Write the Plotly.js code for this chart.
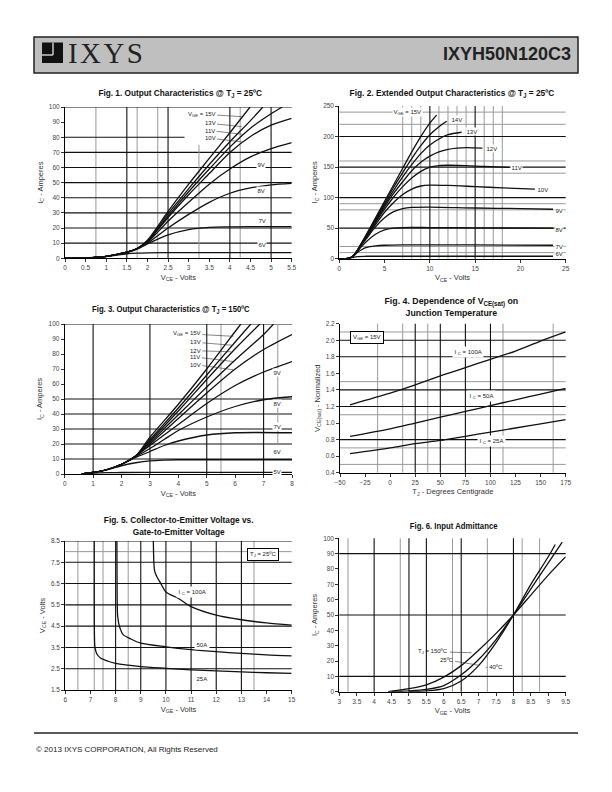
<!DOCTYPE html>
<html><head><meta charset="utf-8">
<script src="https://cdn.plot.ly/plotly-3.0.1.min.js"></script>
<style>html,body{margin:0;padding:0;background:#fff}#c{width:612px;height:792px}</style>
</head><body><div id="c"></div>
<script>
// ===== Fig.1 Output characteristics @ 25C (VCE, IC)
const f1_15V_x=[0,0.5,1,1.5,1.75,2,2.5,3,3.5,4,4.49];
const f1_15V_y=[0,0.3,1.3,4,6.5,12,31,49,66,83,100];
const f1_13V_x=[0,0.5,1,1.5,1.75,2,2.5,3,3.5,4,4.5,4.8];
const f1_13V_y=[0,0.3,1.3,4,6.5,11.5,29.5,46,62,77,91,100];
const f1_11V_x=[0,0.5,1,1.5,1.75,2,2.5,3,3.5,4,4.5,5,5.27];
const f1_11V_y=[0,0.3,1.3,4,6.5,11,28,44,59,73.5,86,95.5,100];
const f1_10V_x=[0,0.5,1,1.5,1.75,2,2.5,3,3.5,4,4.5,5,5.5];
const f1_10V_y=[0,0.3,1.3,4,6.5,11,27,42,56,70,80.5,88,92.5];
const f1_9V_x=[0,0.5,1,1.5,1.75,2,2.5,3,3.5,4,4.5,5,5.5];
const f1_9V_y=[0,0.3,1.3,4,6.5,10.5,24.5,37,49,59,67,72.5,76.5];
const f1_8V_x=[0,0.5,1,1.5,1.75,2,2.5,3,3.5,4,4.5,5,5.5];
const f1_8V_y=[0,0.3,1.3,4,6.3,10,20,29,37,43,46.5,48.5,49.5];
const f1_7V_x=[0,0.5,1,1.5,1.75,2,2.5,3,3.5,4,5,5.5];
const f1_7V_y=[0,0.3,1.3,4,6,9.5,15.5,19,20.5,20.8,21,21];
const f1_6V_x=[0,0.5,1,1.5,1.75,2,2.5,5.5];
const f1_6V_y=[0,0.3,1.2,3,3.4,3.6,3.7,3.7];

// ===== Fig.2 Extended output characteristics @ 25C
const f2_15V_x=[0,1,1.5,2,2.5,3,4,5,6,7,8,9,10,10.75];
const f2_15V_y=[0,0.5,4,14,27,40,67,94,121,148,175,200,222,235];
const f2_14V_x=[0,1,1.5,2,2.5,3,4,5,6,7,8,9,10,11,11.86];
const f2_14V_y=[0,0.5,4,14,26.5,39,65,91,117,141,164,185,203,216,225];
const f2_13V_x=[0,1,1.5,2,2.5,3,4,5,6,7,8,9,10,11,12,13.5];
const f2_13V_y=[0,0.5,4,13.5,26,38,63,88,112,134,154,172,186,196,203,207];
const f2_12V_x=[0,1,1.5,2,2.5,3,4,5,6,7,8,9,10,11,12,13,14,15.8];
const f2_12V_y=[0,0.5,4,13.5,25.5,37,61,85,107,126,144,158,168,175,179,181,182,181];
const f2_11V_x=[0,1,1.5,2,2.5,3,4,5,6,7,8,9,10,11,12,14,16,18.8];
const f2_11V_y=[0,0.5,4,13,25,36,59,81,101,118,132,143,150,152.5,153,152.5,151,149.5];
const f2_10V_x=[0,1,1.5,2,2.5,3,4,5,6,7,8,9,10,12,15,18,21.6];
const f2_10V_y=[0,0.5,4,13,24.5,35,56,76,92,105,114,119,120.5,120,118,116,114];
const f2_9V_x=[0,1,1.5,2,2.5,3,4,5,6,7,8,10,15,20,23.6];
const f2_9V_y=[0,0.5,4,13,23.5,33,52,67,77,82,84,84.5,83,82,81];
const f2_8V_x=[0,1,1.5,2,2.5,3,4,5,6,7,10,15,23.6];
const f2_8V_y=[0,0.5,4,12,20.5,28,40,47,50,51,51,50.5,50];
const f2_7V_x=[0,1,1.5,2,2.5,3,4,5,7,15,23.6];
const f2_7V_y=[0,0.5,3.5,10,15,18.5,21,22,22.5,22.5,22];
const f2_6V_x=[0,1,1.5,2,3,23.6];
const f2_6V_y=[0,0.5,2,3.5,4,4];

// ===== Fig.3 Output characteristics @ 150C
const f3_15V_x=[0.6,1,1.5,2,2.5,3,4,5,6,6.2];
const f3_15V_y=[0,1,3,6.5,12,24.5,46.5,70,95,100];
const f3_13V_x=[0.6,1,1.5,2,2.5,3,4,5,6,6.55];
const f3_13V_y=[0,1,3,6.5,12,23,44,66,88,100];
const f3_12V_x=[0.6,1,1.5,2,2.5,3,4,5,6,6.87];
const f3_12V_y=[0,1,3,6.5,12,22,42,63,83.5,100];
const f3_11V_x=[0.6,1,1.5,2,2.5,3,4,5,6,7,7.35];
const f3_11V_y=[0,1,3,6.5,12,21,39.5,58,76,93,100];
const f3_10V_x=[0.6,1,1.5,2,2.5,3,4,5,6,7,8];
const f3_10V_y=[0,1,3,6.5,12,20,37,54,70,83,93];
const f3_9V_x=[0.6,1,1.5,2,2.5,3,4,5,6,7,8];
const f3_9V_y=[0,1,3,6.5,12,19,33,47,59,68,75];
const f3_8V_x=[0.6,1,1.5,2,2.5,3,3.5,4,5,6,7,8];
const f3_8V_y=[0,1,3,6.5,11.5,17,23,29,38,45,49.5,51.5];
const f3_7V_x=[0.6,1,1.5,2,2.5,3,3.5,4,5,6,8];
const f3_7V_y=[0,1,3,6.5,11,15,19,22,26,27.5,27.5];
const f3_6V_x=[0.6,1,1.5,2,2.5,3,3.5,4,8];
const f3_6V_y=[0,1,2.8,5.5,7.5,8.8,9.3,9.5,9.5];
const f3_5V_x=[0.6,1,1.5,2,3,8];
const f3_5V_y=[0,0.6,0.9,1.0,1.1,1.1];

// ===== Fig.4 VCE(sat) normalized vs TJ
const f4_tj=[-40,0,25,50,75,100,125,150,175];
const f4_100A=[1.22,1.36,1.46,1.57,1.67,1.77,1.87,1.99,2.10];
const f4_50A=[0.84,0.93,1.00,1.07,1.14,1.21,1.28,1.35,1.42];
const f4_25A=[0.63,0.70,0.75,0.79,0.84,0.89,0.94,0.99,1.04];

// ===== Fig.5 VCE vs VGE
const f5_100A_x=[9.5,9.52,9.55,9.65,9.8,10,10.5,11,12,13,14,15];
const f5_100A_y=[8.5,7.5,7.1,6.8,6.5,6.1,5.8,5.42,5.02,4.8,4.65,4.55];
const f5_50A_x=[8.05,8.06,8.08,8.15,8.3,8.6,9,10,11,12,13,14,15];
const f5_50A_y=[8.5,6,5,4.5,4.1,3.9,3.7,3.53,3.4,3.3,3.22,3.15,3.1];
const f5_25A_x=[7.15,7.16,7.18,7.25,7.4,7.7,8,9,10,11,12,13,14,15];
const f5_25A_y=[8.5,4,3.5,3.2,3.0,2.85,2.75,2.6,2.52,2.45,2.4,2.35,2.31,2.28];

// ===== Fig.6 Input admittance (VGE, IC)
const f6_150C_x=[4.4,5,5.5,6,6.5,7,7.5,8,8.5,9,9.5];
const f6_150C_y=[0,2,4.5,9.5,17,27,38,50,63,76,88];
const f6_25C_x=[4.5,5,5.5,6,6.5,7,7.5,8,8.5,9,9.4];
const f6_25C_y=[0,0.5,1.5,4,11,21,34,50,67,84,97.5];
const f6_m40C_x=[5,5.5,6,6.5,7,7.5,8,8.5,9,9.2];
const f6_m40C_y=[0,0.5,2,7,17,32,50,70,88,96];

// ===== grid line positions (value units); [v,from,to] = partial line
const g1v_major=[1.5,2.5,4,5], g1v_minor=[0.75,1.75,2.25,[3.25,0,75],4.25];
const g1h_major=[10,20,30,40,50,60,70,[80,0,2.9],100], g1h_minor=[];
const g2v_major=[10,15], g2v_minor=[7,8,9,11,12,13,14,16,17,18];
const g2h_major=[50,100,150,200], g2h_minor=[10,20,80,90,140,160,220,240];
const g3v_major=[1,3,5,7], g3v_minor=[5.5,[7.5,20,100]];
const g3h_major=[10,20,30,40,50,100], g3h_minor=[];
const g4v_major=[25,50,75,100], g4v_minor=[-12.5,12.5,37.5,112.5,162.5];
const g4h_major=[0.8,1.2,1.4,1.8,2.0], g4h_minor=[0.5,0.7,1.1,1.5,2.1];
const g5v_major=[8,9,10,11,12,13], g5v_minor=[6.5,7.15,7.5,8.5,13.5];
const g5h_major=[2.5,3.5,4.5,5.5,6.5,7.5,8.5], g5h_minor=[8.0];
const g6v_major=[4,5,5.5,6.5,8], g6v_minor=[3.25,4.75,6.25,7.25,8.25,8.75];
const g6h_major=[10,50,90], g6h_minor=[];

const W=612,H=792;
const sfx=n=>n===1?'':String(n);
const px=v=>v/W, py=v=>1-v/H;
const FONT='Liberation Sans, Arial, Helvetica, sans-serif';
const TFONT='Liberation Sans, Arial, sans-serif';

function grid(n,dir,list,color,width){
  return list.map(g=>{
    const part=Array.isArray(g); const v=part?g[0]:g;
    const s={type:'line',layer:'below',line:{color:color,width:width}};
    if(dir==='v'){s.xref='x'+sfx(n); s.x0=v; s.x1=v;
      if(part){s.yref='y'+sfx(n); s.y0=g[1]; s.y1=g[2];} else {s.yref='y'+sfx(n)+' domain'; s.y0=0; s.y1=1;}}
    else {s.yref='y'+sfx(n); s.y0=v; s.y1=v;
      if(part){s.xref='x'+sfx(n); s.x0=g[1]; s.x1=g[2];} else {s.xref='x'+sfx(n)+' domain'; s.x0=0; s.x1=1;}}
    return s;
  });
}
function curve(n,x,y){
  return {type:'scatter',mode:'lines',x:x,y:y,xaxis:'x'+sfx(n),yaxis:'y'+sfx(n),
    line:{color:'#111',width:1.3,shape:'spline',smoothing:0.8},hoverinfo:'skip',cliponaxis:true};
}
function lab(n,x,y,text,o){
  return Object.assign({xref:'x'+sfx(n),yref:'y'+sfx(n),x:x,y:y,text:text,showarrow:false,
    font:{family:FONT,size:6,color:'#222'},bgcolor:'rgba(255,255,255,1)',borderpad:0.5},o||{});
}
function lead(n,tx,ty,hx,hy,text){
  return {xref:'x'+sfx(n),yref:'y'+sfx(n),axref:'x'+sfx(n),ayref:'y'+sfx(n),x:hx,y:hy,ax:tx,ay:ty,
    text:text,showarrow:true,arrowhead:0,arrowwidth:0.6,arrowcolor:'#333',standoff:0,startstandoff:0,
    font:{family:FONT,size:6,color:'#222'}};
}
function axis(n,dom,range,dtick,tick0,other,title,o){
  return Object.assign({domain:dom,range:range,tickmode:'linear',dtick:dtick,tick0:tick0,anchor:other+sfx(n),
    showline:true,linecolor:'#000',linewidth:1,ticks:'outside',ticklen:3,tickwidth:0.8,tickcolor:'#000',
    showgrid:false,zeroline:false,fixedrange:true,automargin:false,
    tickfont:{family:FONT,size:6.5,color:'#444'},
    title:{text:title,font:{family:FONT,size:7.5,color:'#333'},standoff:4}},o||{});
}

const data=[
  curve(1,f1_15V_x,f1_15V_y),curve(1,f1_13V_x,f1_13V_y),curve(1,f1_11V_x,f1_11V_y),curve(1,f1_10V_x,f1_10V_y),
  curve(1,f1_9V_x,f1_9V_y),curve(1,f1_8V_x,f1_8V_y),curve(1,f1_7V_x,f1_7V_y),curve(1,f1_6V_x,f1_6V_y),
  curve(2,f2_15V_x,f2_15V_y),curve(2,f2_14V_x,f2_14V_y),curve(2,f2_13V_x,f2_13V_y),curve(2,f2_12V_x,f2_12V_y),
  curve(2,f2_11V_x,f2_11V_y),curve(2,f2_10V_x,f2_10V_y),curve(2,f2_9V_x,f2_9V_y),curve(2,f2_8V_x,f2_8V_y),
  curve(2,f2_7V_x,f2_7V_y),curve(2,f2_6V_x,f2_6V_y),
  curve(3,f3_15V_x,f3_15V_y),curve(3,f3_13V_x,f3_13V_y),curve(3,f3_12V_x,f3_12V_y),curve(3,f3_11V_x,f3_11V_y),
  curve(3,f3_10V_x,f3_10V_y),curve(3,f3_9V_x,f3_9V_y),curve(3,f3_8V_x,f3_8V_y),curve(3,f3_7V_x,f3_7V_y),
  curve(3,f3_6V_x,f3_6V_y),curve(3,f3_5V_x,f3_5V_y),
  curve(4,f4_tj,f4_100A),curve(4,f4_tj,f4_50A),curve(4,f4_tj,f4_25A),
  curve(5,f5_100A_x,f5_100A_y),curve(5,f5_50A_x,f5_50A_y),curve(5,f5_25A_x,f5_25A_y),
  curve(6,f6_150C_x,f6_150C_y),curve(6,f6_25C_x,f6_25C_y),curve(6,f6_m40C_x,f6_m40C_y)
];

const BK='#111', GR='#999';
let shapes=[];
[[1,g1v_major,g1v_minor,g1h_major,g1h_minor],[2,g2v_major,g2v_minor,g2h_major,g2h_minor],
 [3,g3v_major,g3v_minor,g3h_major,g3h_minor],[4,g4v_major,g4v_minor,g4h_major,g4h_minor],
 [5,g5v_major,g5v_minor,g5h_major,g5h_minor],[6,g6v_major,g6v_minor,g6h_major,g6h_minor]].forEach(a=>{
  shapes=shapes.concat(grid(a[0],'v',a[2],GR,1),grid(a[0],'h',a[4],GR,1),grid(a[0],'v',a[1],BK,1.1),grid(a[0],'h',a[3],BK,1.1));
});
// header box, logo, footer rule
shapes.push({type:'rect',xref:'paper',yref:'paper',x0:px(34),x1:px(578),y0:py(73),y1:py(37),fillcolor:'#bfbfbf',line:{color:'#222',width:1.5}});
shapes.push({type:'rect',xref:'paper',yref:'paper',x0:px(42),x1:px(63),y0:py(63),y1:py(42.5),fillcolor:'#111',line:{width:0}});
shapes.push({type:'line',xref:'paper',yref:'paper',x0:px(42),x1:px(53),y0:py(55),y1:py(55),line:{color:'#bfbfbf',width:1.6}});
shapes.push({type:'line',xref:'paper',yref:'paper',x0:px(53),x1:px(53),y0:py(42.5),y1:py(55),line:{color:'#bfbfbf',width:1.6}});
shapes.push({type:'line',xref:'paper',yref:'paper',x0:px(34),x1:px(578),y0:py(733),y1:py(733),line:{color:'#222',width:1.5}});

// figure titles: centre x, centre y, text, width in the reference (px) used to condense the bold face
const titleWidths=[];
function title(cx,cy,text,w){
  titleWidths.push(w);
  return {xref:'paper',yref:'paper',x:px(cx),y:py(cy),text:text,showarrow:false,xanchor:'center',yanchor:'middle',
    font:{family:TFONT,size:9.5,color:'#111',weight:700},name:'figtitle'};
}
const HS='\u200A';
const annotations=[
  {xref:'paper',yref:'paper',x:px(66),y:py(53),xanchor:'left',yanchor:'middle',showarrow:false,text:'I'+HS+'X'+HS+'Y'+HS+'S',
   font:{family:'Liberation Serif, Times New Roman, serif',size:29,color:'#222'}},
  {xref:'paper',yref:'paper',x:px(573),y:py(54),xanchor:'right',yanchor:'middle',showarrow:false,text:'IXYH50N120C3',
   font:{family:FONT,size:18,color:'#222',weight:700}},
  {xref:'paper',yref:'paper',x:px(34),y:py(749),xanchor:'left',yanchor:'middle',showarrow:false,
   text:'© 2013 IXYS CORPORATION, All Rights Reserved',font:{family:FONT,size:8,color:'#222'}},
  title(180,93,'Fig. 1. Output Characteristics @ T<sub>J</sub> = 25ºC',164),
  title(452,93,'Fig. 2. Extended Output Characteristics @ T<sub>J</sub> = 25ºC',205),
  title(171,309,'Fig. 3. Output Characteristics @ T<sub>J</sub> = 150ºC',158),
  title(451,306,'Fig. 4. Dependence of V<sub>CE(sat)</sub> on<br>Junction Temperature',134),
  title(178,525,'Fig. 5. Collector-to-Emitter Voltage vs.<br>Gate-to-Emitter Voltage',150),
  title(453,525,'Fig. 6. Input Admittance',88),
  // Fig1 labels
  lead(1,3.32,95.3,4.29,93.6,'V<sub>GE</sub> = 15V'),
  lead(1,3.52,89.2,4.29,87,'13V'),
  lead(1,3.52,84.4,4.29,82,'11V'),
  lead(1,3.52,79.3,4.29,77,'10V'),
  lab(1,4.75,61.7,'9V'),lab(1,4.75,45,'8V'),lab(1,4.77,25.3,'7V'),lab(1,4.77,8.8,'6V'),
  // Fig2 labels
  lab(2,7.5,239.6,'V<sub>GE</sub> = 15V'),lab(2,12.96,228,'14V'),lab(2,14.6,208,'13V'),lab(2,16.9,180.7,'12V'),
  lab(2,19.6,149.6,'11V'),lab(2,22.5,113.5,'10V'),lab(2,24.3,79.7,'9V'),lab(2,24.3,48.6,'8V'),
  lab(2,24.3,20.7,'7V'),lab(2,24.3,8.7,'6V'),
  // Fig3 labels
  lead(3,4.3,93.5,5.93,91.8,'V<sub>GE</sub> = 15V'),
  lead(3,4.6,87.8,5.93,85.8,'13V'),
  lead(3,4.6,82.2,5.85,81.5,'12V'),
  lead(3,4.6,78,5.93,75,'11V'),
  lead(3,4.6,72.9,5.93,69.5,'10V'),
  lab(3,7.46,67.6,'9V'),lab(3,7.46,47,'8V'),lab(3,7.46,32,'7V'),lab(3,7.46,14.9,'6V'),lab(3,7.46,1.6,'5V'),
  // Fig4 labels
  lab(4,-23.5,2.03,'V<sub>GE</sub> = 15V',{bordercolor:'#000',borderwidth:1,borderpad:2}),
  lab(4,78,1.86,'I <sub>C</sub> = 100A',{borderpad:1.5}),
  lab(4,91.2,1.326,'I <sub>C</sub> = 50A',{borderpad:1.5}),
  lab(4,101.2,0.786,'I <sub>C</sub> = 25A',{borderpad:1.5}),
  // Fig5 labels
  lab(5,13.87,7.86,'T<sub>J</sub> = 25ºC',{bordercolor:'#000',borderwidth:1,borderpad:2}),
  lab(5,11.02,6.12,'I <sub>C</sub> = 100A',{borderpad:1.5}),
  lab(5,11.42,3.66,'50A',{borderpad:1.5}),
  lab(5,11.42,2.05,'25A',{borderpad:1.5}),
  // Fig6 labels
  lead(6,5.7,26.1,6.8,25.4,'T<sub>J</sub> = 150ºC'),
  lead(6,6.08,20.7,7.02,17.2,'25ºC'),
  lab(6,7.45,16.3,'- 40ºC',{bgcolor:'rgba(0,0,0,0)'})
];

const d1x=[px(65),px(291.7)], d1y=[py(258.3),py(107)];
const d2x=[px(339.3),px(565.7)], d2y=[py(258.7),py(106)];
const d3x=[px(64.7),px(292)], d3y=[py(474),py(324)];
const d4x=[px(340),px(565.7)], d4y=[py(472.7),py(323.7)];
const d5x=[px(65.3),px(291.7)], d5y=[py(690),py(541)];
const d6x=[px(339.3),px(565.7)], d6y=[py(691.7),py(538.3)];

const layout={width:W,height:H,margin:{l:0,r:0,t:0,b:0},showlegend:false,
  paper_bgcolor:'#fff',plot_bgcolor:'#fff',font:{family:FONT,size:6.5,color:'#333'},
  xaxis: axis(1,d1x,[0,5.5],0.5,0,'y','V<sub>CE</sub> - Volts'),
  yaxis: axis(1,d1y,[0,100],10,0,'x','I<sub>C</sub> - Amperes'),
  xaxis2:axis(2,d2x,[0,25],5,0,'y','V<sub>CE</sub> - Volts'),
  yaxis2:axis(2,d2y,[0,250],50,0,'x','I<sub>C</sub> - Amperes'),
  xaxis3:axis(3,d3x,[0,8],1,0,'y','V<sub>CE</sub> - Volts'),
  yaxis3:axis(3,d3y,[0,100],10,0,'x','I<sub>C</sub> - Amperes'),
  xaxis4:axis(4,d4x,[-50,175],25,-50,'y','T<sub>J</sub> - Degrees Centigrade'),
  yaxis4:axis(4,d4y,[0.4,2.2],0.2,0.4,'x','V<sub>CE(sat)</sub> - Normalized',{tickformat:'.1f'}),
  xaxis5:axis(5,d5x,[6,15],1,6,'y','V<sub>GE</sub> - Volts'),
  yaxis5:axis(5,d5y,[1.5,8.5],1,1.5,'x','V<sub>CE</sub> - Volts',{tickformat:'.1f'}),
  xaxis6:axis(6,d6x,[3,9.5],0.5,3,'y','V<sub>GE</sub> - Volts'),
  yaxis6:axis(6,d6y,[0,100],10,0,'x','I<sub>C</sub> - Amperes'),
  shapes:shapes,annotations:annotations};

Plotly.newPlot('c',data,layout,{staticPlot:true,displayModeBar:false}).then(gd=>{
  // condense the bold figure titles to the narrow face of the reference
  let k=0;
  gd.querySelectorAll('.annotation').forEach(g=>{
    const t=g.querySelector('text.annotation-text');
    if(!t||!/^Fig\./.test(t.textContent)) return;
    const w=titleWidths[k++]; const bb=t.getBBox();
    if(bb.width>0){
      t.style.transformBox='fill-box'; t.style.transformOrigin='center';
      t.style.transform='scaleX('+Math.min(1,w/bb.width).toFixed(3)+')';
    }
  });
});
</script></body></html>
